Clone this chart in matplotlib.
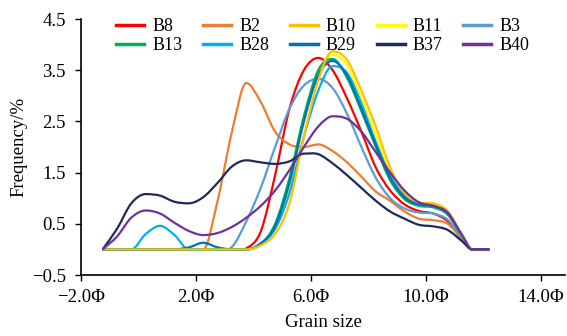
# Grain size distribution curves (frequency vs grain size in phi units)

import matplotlib.pyplot as plt
import numpy as np
from matplotlib.lines import Line2D
from matplotlib.patches import PathPatch
from matplotlib.path import Path

plt.rcParams["font.family"] = ["Liberation Serif", "DejaVu Serif"]
plt.rcParams["font.size"] = 13.5

PHI = [-1.25, -0.75, -0.25, 0.25, 0.75, 1.25, 1.75, 2.25, 2.75, 3.25,
       3.75, 4.25, 4.75, 5.25, 5.75, 6.25, 6.75, 7.25, 7.75, 8.25,
       8.75, 9.25, 9.75, 10.25, 10.75, 11.25, 11.6, 12.2]

B8 = [0, 0, 0, 0, 0, 0, 0, 0, 0, 0,
      0.02, 0.35, 1.45, 2.75, 3.5, 3.74, 3.5, 2.95, 2.3, 1.6,
      1.15, 0.88, 0.75, 0.7, 0.55, 0.2, 0, 0]
B2 = [0, 0, 0, 0, 0, 0, 0, 0, 0.95, 2.3,
      3.25, 2.88, 2.3, 2.05, 2.0, 2.05, 1.92, 1.7, 1.42, 1.13,
      0.95, 0.74, 0.6, 0.57, 0.5, 0.2, 0, 0]
B10 = [0, 0, 0, 0, 0, 0, 0, 0, 0, 0,
       0, 0.08, 0.3, 0.9, 2.2, 3.3, 3.87, 3.7, 3.1, 2.4,
       1.6, 1.1, 0.92, 0.9, 0.75, 0.28, 0, 0]
B11 = [0, 0, 0, 0, 0, 0, 0, 0, 0, 0,
       0, 0.1, 0.4, 1.2, 2.5, 3.45, 3.8, 3.6, 2.95, 2.25,
       1.5, 1.05, 0.9, 0.88, 0.72, 0.28, 0, 0]
B3 = [0, 0, 0, 0, 0, 0, 0, 0, 0, 0.05,
      0.55, 1.2, 2.0, 2.75, 3.2, 3.33, 3.15, 2.65, 2.0, 1.4,
      1.0, 0.8, 0.72, 0.7, 0.58, 0.23, 0, 0]
B13 = [0, 0, 0, 0, 0, 0, 0, 0, 0, 0,
       0, 0.1, 0.5, 1.4, 2.6, 3.5, 3.72, 3.35, 2.7, 2.0,
       1.35, 0.98, 0.85, 0.82, 0.68, 0.26, 0, 0]
B28 = [0, 0, 0, 0.3, 0.46, 0.28, 0, 0, 0, 0,
       0, 0.1, 0.4, 1.1, 2.2, 3.1, 3.58, 3.45, 2.85, 2.1,
       1.45, 1.05, 0.88, 0.85, 0.7, 0.28, 0, 0]
B29 = [0, 0, 0, 0, 0, 0, 0.04, 0.13, 0.04, 0,
       0, 0.12, 0.45, 1.3, 2.5, 3.4, 3.68, 3.4, 2.75, 2.05,
       1.4, 1.02, 0.88, 0.85, 0.7, 0.28, 0, 0]
B37 = [0, 0.4, 0.9, 1.08, 1.05, 0.93, 0.9, 1.02, 1.3, 1.62,
       1.74, 1.7, 1.67, 1.72, 1.87, 1.86, 1.68, 1.45, 1.2, 0.95,
       0.74, 0.6, 0.48, 0.45, 0.38, 0.16, 0, 0]
B40 = [0, 0.25, 0.62, 0.76, 0.7, 0.52, 0.36, 0.28, 0.32, 0.44,
       0.62, 0.85, 1.15, 1.55, 2.0, 2.4, 2.6, 2.55, 2.3, 1.9,
       1.5, 1.15, 0.92, 0.85, 0.72, 0.28, 0, 0]

SERIES = {
    "B8": (B8, "#ff0000"),
    "B2": (B2, "#ed7d31"),
    "B11": (B11, "#ffff00"),
    "B3": (B3, "#5b9bd5"),
    "B13": (B13, "#00b050"),
    "B28": (B28, "#00b0f0"),
    "B29": (B29, "#0070c0"),
    "B10": (B10, "#ffc000"),
    "B37": (B37, "#1f2a5c"),
    "B40": (B40, "#7030a0"),
}
LEGEND_ORDER = ["B8", "B13", "B2", "B28", "B10", "B29", "B11", "B37", "B3", "B40"]

X_TICKS = [-2, 2, 6, 10, 14]
Y_TICKS = [-0.5, 0.5, 1.5, 2.5, 3.5, 4.5]


def smooth_path(x, y):
    """Smooth line through the points, drawn as cubic bezier segments"""
    x = np.asarray(x, float)
    y = np.asarray(y, float)
    d = np.diff(y) / np.diff(x)
    m = np.zeros_like(y)
    m[0], m[-1] = d[0], d[-1]
    for i in range(1, len(y) - 1):
        if d[i - 1] * d[i] > 0:
            m[i] = (d[i - 1] + d[i]) / 2
    verts = [(x[0], y[0])]
    codes = [Path.MOVETO]
    for i in range(len(x) - 1):
        h = x[i + 1] - x[i]
        verts += [(x[i] + h / 3, y[i] + m[i] * h / 3),
                  (x[i + 1] - h / 3, y[i + 1] - m[i + 1] * h / 3),
                  (x[i + 1], y[i + 1])]
        codes += [Path.CURVE4] * 3
    return Path(verts, codes)


fig = plt.figure(figsize=(5.67, 3.36), dpi=100)
ax = fig.add_axes([81 / 567, 1 - 275 / 336, 484 / 567, 256 / 336])

for name, (vals, color) in SERIES.items():
    ax.add_patch(PathPatch(smooth_path(PHI, vals), facecolor="none",
                           edgecolor=color, lw=1.6))

ax.set_xlim(-2, 14.83)
ax.set_ylim(-0.5, 4.5)
ax.set_xticks(X_TICKS)
ax.set_xticklabels([f"{v:.1f}Φ".replace("-", "\u2212") for v in X_TICKS])
ax.set_yticks(Y_TICKS)
ax.set_yticklabels([f"{v:.1f}".replace("-", "\u2212") for v in Y_TICKS])
ax.tick_params(direction="out", length=4, width=1, colors="black",
               labelsize=13.5)
ax.tick_params(axis="x", pad=6)
ax.tick_params(axis="y", pad=7)
for side in ["top", "right"]:
    ax.spines[side].set_visible(False)
for side in ["left", "bottom"]:
    ax.spines[side].set_linewidth(1.2)
ax.set_xlabel("Grain size", fontsize=13.5, labelpad=6)
ax.set_ylabel("Frequency/%", fontsize=13.5, labelpad=3)

handles = [Line2D([], [], color=SERIES[n][1], lw=2.5) for n in LEGEND_ORDER]
fig.legend(handles, LEGEND_ORDER, ncol=5, loc="upper left",
           bbox_to_anchor=(116 / 567, 1 - 18 / 336), frameon=False,
           borderpad=0, borderaxespad=0, handlelength=1.55, handletextpad=0.45,
           columnspacing=1.15, labelspacing=0.12, fontsize=13)

fig.savefig("out.png", dpi=100)
